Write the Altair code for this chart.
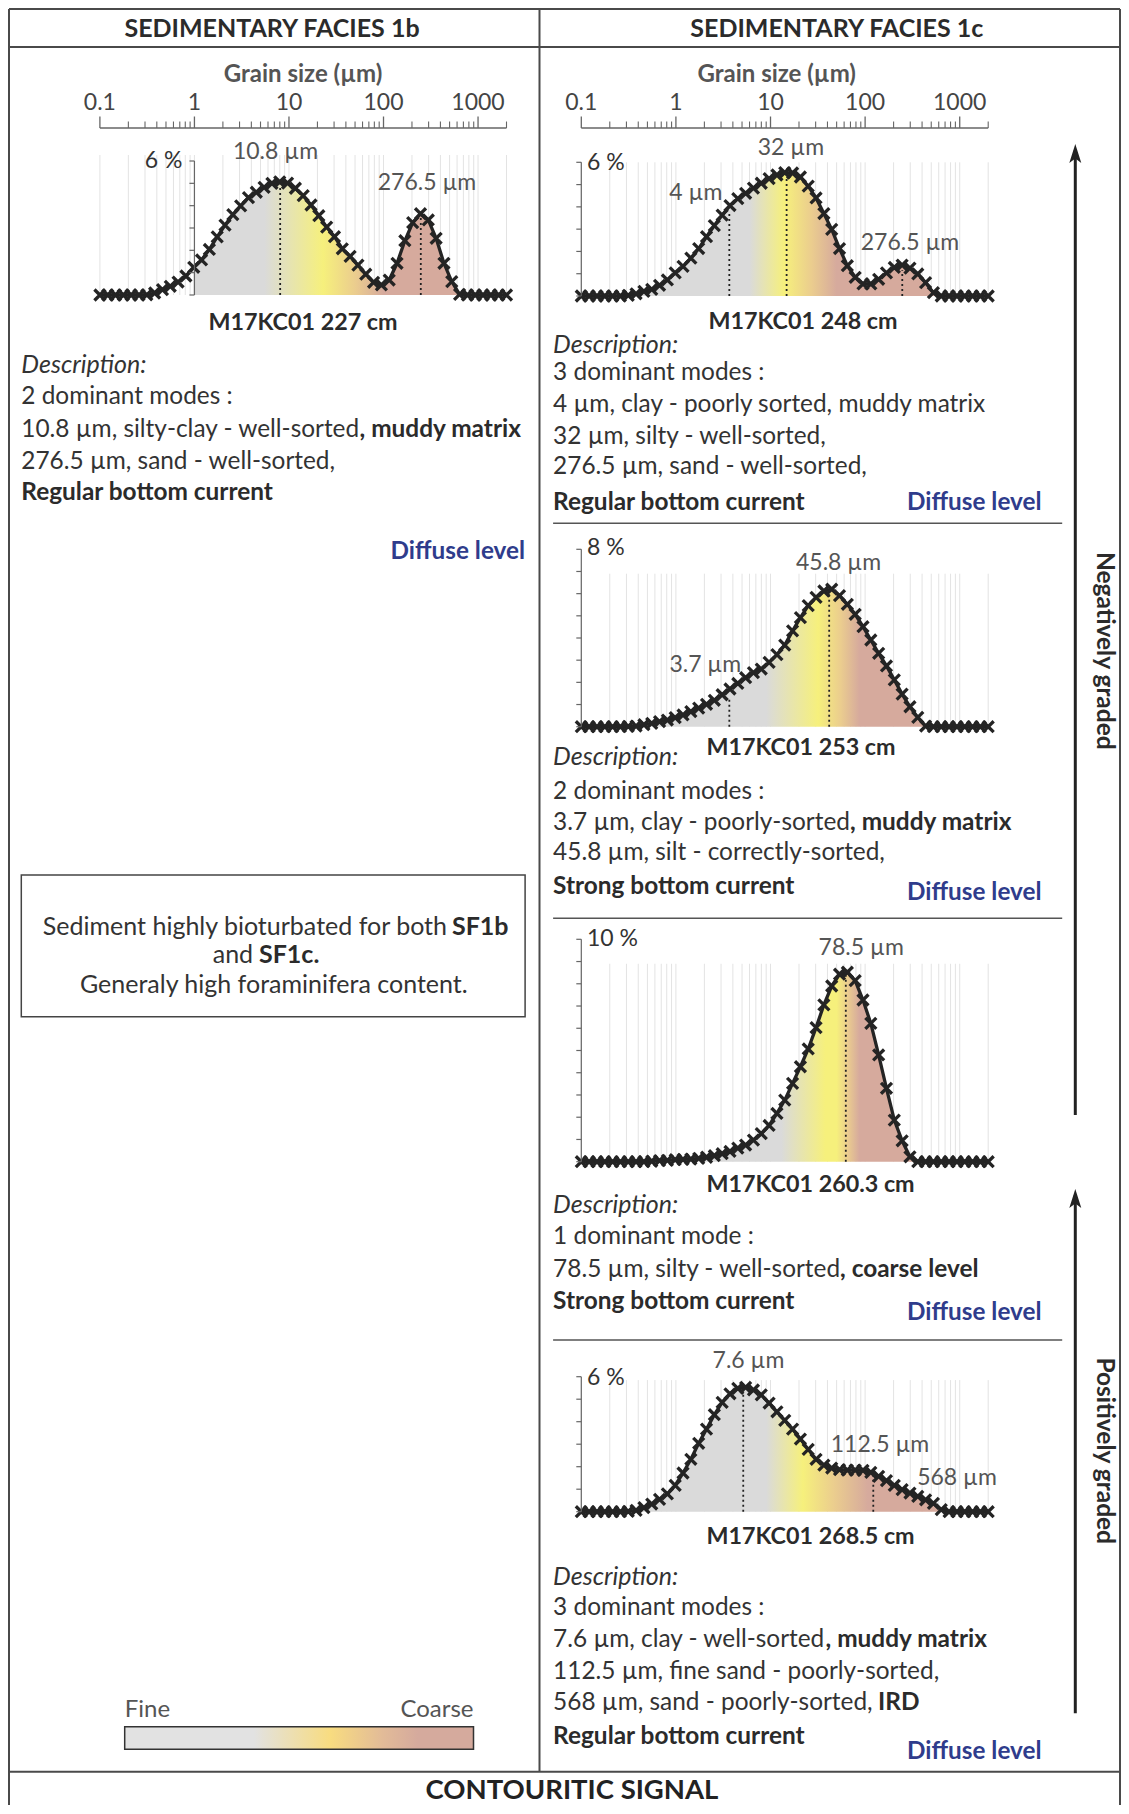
import math
import altair as alt
import pandas as pd

# ----------------------------- data -----------------------------
BINS_UM = [0.1, 0.121, 0.1464, 0.1771, 0.2142, 0.2592, 0.3135, 0.3793, 0.4589, 0.5552,
           0.6716, 0.8125, 0.983, 1.189, 1.439, 1.741, 2.106, 2.548, 3.082, 3.729,
           4.511, 5.457, 6.602, 7.987, 9.662, 11.69, 14.14, 17.11, 20.7, 25.04,
           30.29, 36.65, 44.34, 53.64, 64.9, 78.51, 94.98, 114.9, 139.0, 168.2,
           203.5, 246.2, 297.8, 360.3, 435.9, 527.3, 637.9, 771.7, 933.6, 1129,
           1367, 1653, 2000]

V_227 = [0, 0, 0, 0, 0, 0, 0.01, 0.09, 0.24, 0.39,
         0.58, 0.85, 1.24, 1.57, 2.04, 2.6, 3.13, 3.6, 3.99, 4.36,
         4.6, 4.82, 5.0, 5.07, 5.01, 4.78, 4.45, 4.03, 3.55, 3.04,
         2.61, 2.07, 1.73, 1.34, 0.93, 0.57, 0.45, 0.67, 1.42, 2.43,
         3.24, 3.64, 3.36, 2.54, 1.42, 0.6, 0.03, 0, 0, 0,
         0, 0, 0]
V_248 = [0, 0, 0, 0, 0, 0, 0.03, 0.1, 0.21, 0.3,
         0.48, 0.72, 1.04, 1.33, 1.7, 2.13, 2.66, 3.16, 3.63, 4.06,
         4.37, 4.61, 4.84, 5.06, 5.27, 5.43, 5.54, 5.52, 5.34, 4.93,
         4.4, 3.7, 2.99, 2.13, 1.36, 0.84, 0.54, 0.54, 0.75, 1.04,
         1.28, 1.39, 1.25, 0.99, 0.6, 0.15, 0, 0, 0, 0,
         0, 0, 0]
V_253 = [0, 0, 0, 0, 0, 0, 0.01, 0.03, 0.09, 0.15,
         0.23, 0.3, 0.41, 0.53, 0.68, 0.84, 1.01, 1.19, 1.44, 1.7,
         1.95, 2.21, 2.44, 2.6, 2.9, 3.25, 3.68, 4.32, 4.92, 5.46,
         5.83, 6.12, 6.2, 5.91, 5.52, 5.07, 4.51, 3.91, 3.31, 2.74,
         2.11, 1.47, 0.9, 0.42, 0.03, 0, 0, 0, 0, 0,
         0, 0, 0]
V_260 = [0, 0, 0, 0, 0, 0, 0, 0, 0, 0.02,
         0.05, 0.06, 0.09, 0.1, 0.12, 0.15, 0.2, 0.27, 0.36, 0.46,
         0.61, 0.75, 0.97, 1.26, 1.63, 2.17, 2.77, 3.52, 4.27, 5.07,
         6.03, 7.05, 7.9, 8.43, 8.52, 8.14, 7.27, 6.22, 4.8, 3.3,
         1.87, 0.94, 0.22, 0, 0, 0, 0, 0, 0, 0,
         0, 0, 0]
V_268 = [0, 0, 0, 0, 0, 0, 0.01, 0.06, 0.18, 0.34,
         0.55, 0.79, 1.17, 1.72, 2.33, 3.04, 3.67, 4.31, 4.86, 5.24,
         5.48, 5.53, 5.41, 5.19, 4.83, 4.44, 4.06, 3.67, 3.23, 2.77,
         2.33, 2.07, 1.94, 1.87, 1.85, 1.85, 1.84, 1.75, 1.57, 1.38,
         1.17, 0.98, 0.83, 0.68, 0.53, 0.37, 0.09, 0, 0, 0,
         0, 0, 0]

SAMPLE_NAMES = ["M17KC01 227 cm", "M17KC01 248 cm", "M17KC01 253 cm",
                "M17KC01 260.3 cm", "M17KC01 268.5 cm"]
Y_MAX = [6, 6, 8, 10, 6]
Y_MAX_LABEL = ["6 %", "6 %", "8 %", "10 %", "6 %"]
MODE_UM = [[8.07, 248], [3.67, 14.8, 247], [3.67, 41.7], [62.5], [5.15, 122]]
MODE_PEAK = [[4.95, 3.5], [3.7, 5.4, 1.15], [1.35, 6.1], [8.45], [5.35, 1.75]]
MODE_TEXT = [["10.8 µm", "276.5 µm"], ["4 µm", "32 µm", "276.5 µm"],
             ["3.7 µm", "45.8 µm"], ["78.5 µm"], ["7.6 µm", "112.5 µm", "568 µm"]]
AXIS_MAJOR = [0.1, 1, 10, 100, 1000]
AXIS_LABELS = ["0.1", "1", "10", "100", "1000"]
AXIS_MINOR = [m * 10 ** e for e in range(-1, 3) for m in range(2, 10)] + [2000]
GRID_UM = [m * 10 ** e for e in range(-1, 3) for m in range(1, 10)] + [1000, 2000]

GRAY, YEL, ORA, PINK = "#dadada", "#f6f07c", "#ebcd8e", "#d6aa9d"
GRAD_STOPS = [
    [(0.983, GRAY), (5.5, GRAY), (23, YEL), (50, ORA), (100, PINK), (2000, PINK)],
    [(0.1, GRAY), (6, GRAY), (14, YEL), (27, ORA), (50, PINK), (2000, PINK)],
    [(0.1, GRAY), (9, GRAY), (32, YEL), (55, ORA), (87, PINK), (2000, PINK)],
    [(0.1, GRAY), (13, GRAY), (38, YEL), (50, YEL), (65, ORA), (87, PINK), (2000, PINK)],
    [(0.1, GRAY), (9, GRAY), (22, YEL), (47, ORA), (107, PINK), (2000, PINK)],
]
FILL_FROM = [0.983, 0.1, 0.1, 0.1, 0.1]
LEGEND_STOPS = [(0.0, "#e2e2e2"), (0.37, "#e2e2e2"), (0.59, "#f8dc80"), (0.74, "#e2bb98"),
                (0.84, "#d5aa9d"), (1.0, "#d5aa9d")]

# ----------------------------- layout -----------------------------
OX, OY = 8, 8
W, H = 1113, 1798
FONT = "Lato"
INK = "#2b2b2b"
LEFT_X = (99.9, 506.5)
RIGHT_X = (581.3, 988.2)
PANELS = [
    dict(xr=LEFT_X, yb=295, yt=161, gridtop=6.27, yaxis=1),
    dict(xr=RIGHT_X, yb=296, yt=162.3, gridtop=6.0, yaxis=0.1),
    dict(xr=RIGHT_X, yb=726.7, yt=549.3, gridtop=6.9, yaxis=0.1),
    dict(xr=RIGHT_X, yb=1161.7, yt=939.3, gridtop=8.9, yaxis=0.1),
    dict(xr=RIGHT_X, yb=1511.7, yt=1376.7, gridtop=5.85, yaxis=0.1),
]
PCT_POS = [(182.5, 161), (587, 163), (587, 548), (587, 939), (587, 1378)]
MODE_POS = [[(275.5, 152), (427, 183)], [(695.9, 193), (791, 148), (910, 243)],
            [(705.3, 665), (838.6, 563)], [(861.2, 948)],
            [(748.5, 1361), (880, 1445), (957, 1478)]]
SAMPLE_POS = [(303, 323), (803, 322), (801, 748), (810.5, 1185), (810.5, 1537)]
LOG_MAX = math.log10(2000)
XPATH = "M-1,-1L1,1M-1,1L1,-1"
ARROW = "M0,-1L0.6,0.9L0,0.45L-0.6,0.9Z"
DX_L, DX_R = 21.3, 553.1
FS_DESC = 24.4
FS_INFO = 25


def px(d, xr):
    return xr[0] + (math.log10(d) + 1) / (LOG_MAX + 1) * (xr[1] - xr[0])


def grad(stops, start=0.1, log=True):
    lo = math.log10(start)
    return alt.Gradient(
        gradient="linear", x1=0, x2=1, y1=0, y2=0,
        stops=[alt.GradientStop(
            offset=round((math.log10(u) - lo) / (LOG_MAX - lo) if log else u, 4), color=c)
            for u, c in stops])


def pscale(xr):
    return alt.Scale(type="log", domain=[0.1, 2000], range=[xr[0] - OX, xr[1] - OX], nice=False)


layers = []


def panel(i):
    p = PANELS[i]
    xs = pscale(p["xr"])
    ys = alt.Scale(type="linear", domain=[0, Y_MAX[i]], range=[p["yb"] - OY, p["yt"] - OY],
                   nice=False, zero=False)
    X = lambda f: alt.X(f, scale=xs, axis=None)
    Y = lambda f: alt.Y(f, scale=ys, axis=None)
    vals = [V_227, V_248, V_253, V_260, V_268][i]
    df = pd.DataFrame({"d": BINS_UM, "v": vals})
    fill_df = df[df["d"] >= FILL_FROM[i]]
    grid = pd.DataFrame({"d": GRID_UM, "lo": 0.0, "hi": p["gridtop"]})
    modes = pd.DataFrame({"d": MODE_UM[i], "lo": 0.0, "hi": MODE_PEAK[i]})
    ax = pd.DataFrame({"d": [p["yaxis"]], "lo": [0.0], "hi": [float(Y_MAX[i])]})
    ticks = pd.DataFrame({"d": [p["yaxis"]] * (Y_MAX[i] + 1), "p": list(range(Y_MAX[i] + 1))})
    axpx = px(p["yaxis"], p["xr"]) - OX
    out = [
        alt.Chart(grid).mark_rule(color="#e3e3e3", strokeWidth=1).encode(
            x=X("d:Q"), y=Y("lo:Q"), y2="hi:Q"),
        alt.Chart(fill_df).mark_area(color=grad(GRAD_STOPS[i], FILL_FROM[i]), opacity=1).encode(
            x=X("d:Q"), y=Y("v:Q")),
        alt.Chart(modes).mark_rule(color="#222", strokeWidth=1.8, strokeDash=[2, 3]).encode(
            x=X("d:Q"), y=Y("lo:Q"), y2="hi:Q"),
        alt.Chart(df).mark_line(color="#242424", strokeWidth=3.3).encode(x=X("d:Q"), y=Y("v:Q")),
        alt.Chart(df).mark_point(shape=XPATH, filled=False, size=120, strokeWidth=3.3,
                                 color="#242424", opacity=1).encode(x=X("d:Q"), y=Y("v:Q")),
        alt.Chart(ax).mark_rule(color="#666", strokeWidth=1.2).encode(
            x=X("d:Q"), y=Y("lo:Q"), y2="hi:Q"),
        alt.Chart(ticks).mark_rule(color="#666", strokeWidth=1.2).encode(
            x=X("d:Q"), x2=alt.value(axpx - 5), y=Y("p:Q")),
    ]
    return out


def top_axis(xr):
    xs = pscale(xr)
    X = lambda f: alt.X(f, scale=xs, axis=None)
    return [
        alt.Chart(pd.DataFrame({"a": [0.1], "b": [2000]})).mark_rule(color="#666", strokeWidth=1.3)
        .encode(x=X("a:Q"), x2="b:Q", y=alt.value(128 - OY)),
        alt.Chart(pd.DataFrame({"d": AXIS_MAJOR})).mark_rule(color="#666", strokeWidth=1.3)
        .encode(x=X("d:Q"), y=alt.value(128 - OY), y2=alt.value(116.5 - OY)),
        alt.Chart(pd.DataFrame({"d": AXIS_MINOR})).mark_rule(color="#666", strokeWidth=1.1)
        .encode(x=X("d:Q"), y=alt.value(128 - OY), y2=alt.value(121.5 - OY)),
        alt.Chart(pd.DataFrame({"d": AXIS_MAJOR, "t": AXIS_LABELS})).mark_text(
            font=FONT, fontSize=23, color="#444", baseline="middle")
        .encode(x=X("d:Q"), y=alt.value(103 - OY), text="t:N"),
    ]


def T(rows, **kw):
    df = pd.DataFrame([(x - OX, y - OY, t) for x, y, t in rows], columns=["x", "y", "t"])
    kw.setdefault("font", FONT)
    kw.setdefault("baseline", "middle")
    return alt.Chart(df).mark_text(**kw).encode(
        x=alt.X("x:Q", scale=None, axis=None), y=alt.Y("y:Q", scale=None, axis=None), text="t:N")


def cx(v):
    return max(1, min(W - 1, v - OX))


def cy(v):
    return max(1, min(H - 1, v - OY))


def R(rows, color, width):
    df = pd.DataFrame([(cx(a), cy(b), cx(c), cy(d)) for a, b, c, d in rows],
                      columns=["x", "y", "x2", "y2"])
    return alt.Chart(df).mark_rule(color=color, strokeWidth=width).encode(
        x=alt.X("x:Q", scale=None, axis=None), y=alt.Y("y:Q", scale=None, axis=None),
        x2="x2:Q", y2="y2:Q")


def BOX(x1, y1, x2, y2, **kw):
    df = pd.DataFrame({"x": [x1 - OX], "y": [y1 - OY], "x2": [x2 - OX], "y2": [y2 - OY]})
    return alt.Chart(df).mark_rect(**kw).encode(
        x=alt.X("x:Q", scale=None, axis=None), y=alt.Y("y:Q", scale=None, axis=None),
        x2="x2:Q", y2="y2:Q")


for i in range(5):
    layers += panel(i)
layers += top_axis(LEFT_X) + top_axis(RIGHT_X)

# frame lines
layers.append(R([(7, 9, 1128, 9), (7, 47, 1128, 47), (7, 9, 7, 1814), (1128, 9, 1128, 1814),
                 (539.5, 9, 539.5, 1771.7), (7, 1771.7, 1128, 1771.7)], "#4a4a4a", 2))
layers.append(R([(553.1, 523.3, 1062.2, 523.3), (553.1, 918.3, 1062.2, 918.3),
                 (553.1, 1340, 1062.2, 1340)], "#555", 1.5))
layers.append(R([(1075.3, 150, 1075.3, 1115), (1075.3, 1195, 1075.3, 1713.3)], "#222", 3))
arrows = pd.DataFrame({"x": [1075.3 - OX, 1075.3 - OX], "y": [154 - OY, 1199 - OY]})
layers.append(alt.Chart(arrows).mark_point(shape=ARROW, filled=True, size=400, color="#222",
                                           opacity=1, strokeWidth=0).encode(
    x=alt.X("x:Q", scale=None, axis=None), y=alt.Y("y:Q", scale=None, axis=None)))

# info box & legend
layers.append(BOX(21.3, 875, 525.1, 1016.7, fill="white", stroke="#444", strokeWidth=1.5))
layers.append(BOX(124.7, 1726.7, 473.5, 1749.3, fill=grad(LEGEND_STOPS, log=False),
                  stroke="#333", strokeWidth=1.5))

# texts
layers.append(T([(272, 28.5, "SEDIMENTARY FACIES 1b"), (836.8, 28.5, "SEDIMENTARY FACIES 1c")],
                fontSize=25, fontWeight="bold", color=INK, align="center"))
layers.append(T([(303, 75, "Grain size (µm)"), (776.7, 75, "Grain size (µm)")],
                fontSize=24, fontWeight="bold", color="#555", align="center"))
mode_rows = []
for i in range(5):
    for (x, y), t in zip(MODE_POS[i], MODE_TEXT[i]):
        mode_rows.append((x, y, t))
layers.append(T(mode_rows, fontSize=23, color="#555", align="center"))
layers.append(T([(x, y, SAMPLE_NAMES[i]) for i, (x, y) in enumerate(SAMPLE_POS)],
                fontSize=23.3, fontWeight="bold", color=INK, align="center"))
layers.append(T([(PCT_POS[0][0], PCT_POS[0][1], Y_MAX_LABEL[0])], fontSize=23, color="#333",
                align="right"))
layers.append(T([(PCT_POS[i][0], PCT_POS[i][1], Y_MAX_LABEL[i]) for i in range(1, 5)],
                fontSize=23, color="#333", align="left"))

layers.append(T([(DX_L, 365, "Description:"), (DX_R, 345, "Description:"),
                 (DX_R, 756.7, "Description:"), (DX_R, 1205, "Description:"),
                 (DX_R, 1576.7, "Description:")],
                fontSize=25, fontStyle="italic", color="#333", align="left"))
layers.append(T([
    (DX_L, 396.7, "2 dominant modes :"),
    (DX_L, 430, "10.8 µm, silty-clay - well-sorted"),
    (DX_L, 461.7, "276.5 µm, sand - well-sorted,"),
    (DX_R, 373.3, "3 dominant modes :"),
    (DX_R, 405, "4 µm, clay - poorly sorted, muddy matrix"),
    (DX_R, 436.7, "32 µm, silty - well-sorted,"),
    (DX_R, 466.7, "276.5 µm, sand - well-sorted,"),
    (DX_R, 791.7, "2 dominant modes :"),
    (DX_R, 823.3, "3.7 µm, clay - poorly-sorted"),
    (DX_R, 853.3, "45.8 µm, silt - correctly-sorted,"),
    (DX_R, 1236.7, "1 dominant mode :"),
    (DX_R, 1270, "78.5 µm, silty - well-sorted"),
    (DX_R, 1608.3, "3 dominant modes :"),
    (DX_R, 1640, "7.6 µm, clay - well-sorted"),
    (DX_R, 1671.7, "112.5 µm, fine sand - poorly-sorted,"),
    (DX_R, 1703.3, "568 µm, sand - poorly-sorted,"),
], fontSize=FS_DESC, color="#333", align="left"))
layers.append(T([
    (359.5, 430, ", muddy matrix"),
    (DX_L, 493.3, "Regular bottom current"),
    (DX_R, 503.3, "Regular bottom current"),
    (850, 823.3, ", muddy matrix"),
    (DX_R, 886.7, "Strong bottom current"),
    (840, 1270, ", coarse level"),
    (DX_R, 1301.7, "Strong bottom current"),
    (825.5, 1640, ", muddy matrix"),
    (878, 1703.3, "IRD"),
    (DX_R, 1736.7, "Regular bottom current"),
], fontSize=FS_DESC, fontWeight="bold", color=INK, align="left"))
layers.append(T([(525, 552, "Diffuse level"), (1041.5, 503.3, "Diffuse level"),
                 (1041.5, 893.3, "Diffuse level"), (1041.5, 1313.3, "Diffuse level"),
                 (1041.5, 1751.7, "Diffuse level")],
                fontSize=24.3, fontWeight="bold", color="#2f3c8c", align="right"))
layers.append(T([(447, 926.7, "Sediment highly bioturbated for both"), (253.1, 955, "and")],
                fontSize=FS_INFO, color="#333", align="right"))
layers.append(T([(452, 926.7, "SF1b"), (259, 955, "SF1c.")],
                fontSize=FS_INFO, fontWeight="bold", color=INK, align="left"))
layers.append(T([(273.8, 985, "Generaly high foraminifera content.")],
                fontSize=FS_INFO, color="#333", align="center"))
layers.append(T([(124.7, 1710, "Fine")], fontSize=24, color="#555", align="left"))
layers.append(T([(473.5, 1710, "Coarse")], fontSize=24, color="#555", align="right"))
layers.append(T([(1103.5, 650.8, "Negatively graded"), (1103.5, 1450.7, "Positively graded")],
                fontSize=24.5, fontWeight="bold", color=INK, align="center", angle=90))
layers.append(T([(572, 1799, "CONTOURITIC SIGNAL")], fontSize=27.5, fontWeight="bold",
                color="#222", align="center", baseline="alphabetic"))

chart = alt.layer(*layers).resolve_scale(x="independent", y="independent").properties(
    width=W, height=H, padding=0, autosize=alt.AutoSizeParams(type="none"),
    background="white",
).configure_view(stroke=None)

chart.save("out.html", embed_options={"renderer": "svg", "actions": False})
